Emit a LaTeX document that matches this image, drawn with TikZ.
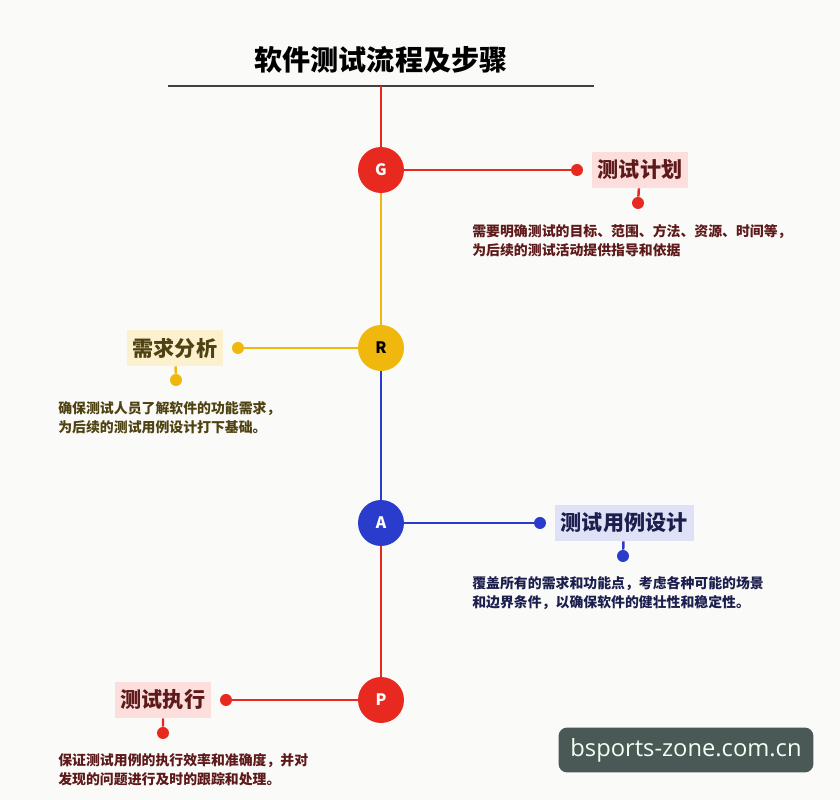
\documentclass[tikz,border=0pt]{standalone}
\usepackage{fontspec}
\setmainfont{Noto Sans CJK SC}
\newfontfamily\wmfont{Open Sans}
\usepackage{tikz}
\usetikzlibrary{positioning}
\definecolor{pgred}{HTML}{E8291F}
\definecolor{pgyellow}{HTML}{F0B70C}
\definecolor{pgblue}{HTML}{2A3CCB}
\definecolor{pgbg}{HTML}{FAFBF8}
\definecolor{txtred}{HTML}{5E1A1A}
\definecolor{txtolive}{HTML}{4F4212}
\definecolor{txtnavy}{HTML}{1C1F4E}
\definecolor{wmgray}{HTML}{4A5856}

\begin{document}
\begin{tikzpicture}[x=0.02cm, y=-0.02cm,
  stage/.style={circle, minimum size=0.92cm, inner sep=0pt, text=white, font=\bfseries\small},
  dot/.style={circle, minimum size=0.24cm, inner sep=0pt},
  tag/.style={inner sep=3.5pt, minimum height=0.72cm, font=\bfseries\fontsize{12}{14}\selectfont},
  desc/.style={anchor=north west, align=left, inner sep=0pt, font=\bfseries\fontsize{7.9}{10.8}\selectfont},
  spine/.style={line width=1.6pt},
  stem/.style={line width=1.4pt}
]
\fill[pgbg] (0,0) rectangle (840,800);
\useasboundingbox (0,0) rectangle (840,800);

% title
\node[font=\bfseries\fontsize{16}{18}\selectfont] (title) at (381,60) {软件测试流程及步骤};
\coordinate (rulel) at (168,86);
\coordinate (ruler) at (594,86);
\coordinate (top) at (381,86);
\draw[line width=1pt, black!75] (rulel) -- (ruler);

% stages
\node[stage, fill=pgred] (g) at (381,170) {G};
\node[stage, fill=pgyellow, text=black] (r) at (381,348) {R};
\node[stage, fill=pgblue] (a) at (381,523) {A};
\node[stage, fill=pgred] (p) at (381,700) {P};

\draw[spine, pgred] (top) -- (g);
\draw[spine, pgyellow] (g) -- (r);
\draw[spine, pgblue] (r) -- (a);
\draw[spine, pgred] (a) -- (p);

% G: plan
\node[dot, fill=pgred] (gdot) at (577,170) {};
\node[tag, fill=pgred!15, text=txtred, right=0.16cm of gdot] (gtag) {测试计划};
\node[dot, fill=pgred] (gstem) at (638,203) {};
\draw[spine, pgred] (g) -- (gdot);
\draw[stem, pgred] (gtag) -- (gstem);
\node[desc, text=txtred] (gdesc) at (472,224) {需要明确测试的目标、范围、方法、资源、时间等，\\为后续的测试活动提供指导和依据};

% R: requirements
\node[dot, fill=pgyellow] (rdot) at (238,348) {};
\node[tag, fill=pgyellow!20, text=txtolive, left=0.16cm of rdot] (rtag) {需求分析};
\node[dot, fill=pgyellow] (rstem) at (176,380) {};
\draw[spine, pgyellow] (r) -- (rdot);
\draw[stem, pgyellow] (rtag) -- (rstem);
\node[desc, text=txtolive] (rdesc) at (58,401) {确保测试人员了解软件的功能需求，\\为后续的测试用例设计打下基础。};

% A: test cases
\node[dot, fill=pgblue] (adot) at (540,523) {};
\node[tag, fill=pgblue!15, text=txtnavy, right=0.16cm of adot] (atag) {测试用例设计};
\node[dot, fill=pgblue] (astem) at (623,556) {};
\draw[spine, pgblue] (a) -- (adot);
\draw[stem, pgblue] (atag) -- (astem);
\node[desc, text=txtnavy] (adesc) at (472,576) {覆盖所有的需求和功能点，考虑各种可能的场景\\和边界条件，以确保软件的健壮性和稳定性。};

% P: execution
\node[dot, fill=pgred] (pdot) at (226,700) {};
\node[tag, fill=pgred!15, text=txtred, left=0.16cm of pdot] (ptag) {测试执行};
\node[dot, fill=pgred] (pstem) at (163,733) {};
\draw[spine, pgred] (p) -- (pdot);
\draw[stem, pgred] (ptag) -- (pstem);
\node[desc, text=txtred] (pdesc) at (58,753) {保证测试用例的执行效率和准确度，并对\\发现的问题进行及时的跟踪和处理。};

% watermark
\node[fill=wmgray, rounded corners=5pt, text=green!5!white, minimum width=5.1cm, minimum height=0.9cm,
  font=\wmfont\fontsize{13.5}{16}\selectfont] (mark) at (686,750) {bsports-zone.com.cn};
\end{tikzpicture}
\end{document}
